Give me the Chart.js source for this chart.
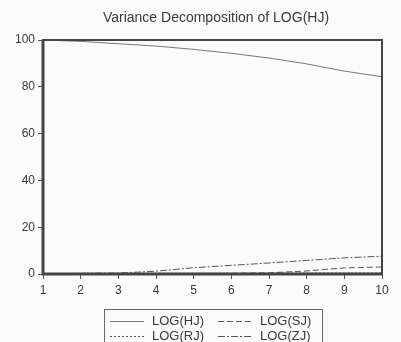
<!DOCTYPE html>
<html>
<head>
<meta charset="utf-8">
<script src="https://cdn.jsdelivr.net/npm/chart.js@4/dist/chart.umd.min.js"></script>
<style>
  html, body { margin: 0; padding: 0; background: #fbfbfb; }
  #wrap { width: 401px; height: 342px; }
</style>
</head>
<body>
<div id="wrap"><canvas id="vdChart" width="401" height="342"></canvas></div>
<script>
var periods = ['1', '2', '3', '4', '5', '6', '7', '8', '9', '10'];
var logHJ = [100, 99.4, 98.4, 97.4, 96.0, 94.3, 92.3, 89.8, 86.7, 84.3];
var logRJ = [0, 0.2, 0.2, 0.3, 0.3, 0.3, 0.3, 0.4, 0.4, 0.4];
var logSJ = [0, 0.1, 0.1, 0.2, 0.2, 0.3, 0.5, 1.3, 2.6, 3.0];
var logZJ = [0, 0.3, 0.4, 1.2, 2.7, 3.7, 4.7, 5.8, 6.9, 7.6];
var titleText = 'Variance Decomposition of LOG(HJ)';

var ink = '#3a3a3a';

// frame round the plot, title on top and the boxed legend underneath
var decorations = {
    id: 'decorations',
    afterDraw: function(chart) {
        var ctx = chart.ctx;
        var a = chart.chartArea;
        ctx.save();

        ctx.strokeStyle = '#444';
        ctx.lineWidth = 2;
        ctx.strokeRect(a.left, a.top, a.right - a.left, a.bottom - a.top);
        ctx.lineWidth = 3;
        ctx.beginPath();
        ctx.moveTo(a.left, a.top);
        ctx.lineTo(a.left, a.bottom);
        ctx.lineTo(a.right, a.bottom);
        ctx.stroke();

        ctx.fillStyle = ink;
        ctx.font = '14px "Liberation Sans", Arial, sans-serif';
        ctx.textAlign = 'center';
        ctx.textBaseline = 'middle';
        ctx.fillText(titleText, 216, 18);

        // legend box
        ctx.strokeStyle = '#666';
        ctx.lineWidth = 1;
        ctx.strokeRect(104.5, 309.5, 218, 40);

        ctx.font = '13px "Liberation Sans", Arial, sans-serif';
        ctx.textAlign = 'left';
        chart.data.datasets.forEach(function(ds, i) {
            var col = Math.floor(i / 2), row = i % 2;
            var x = 110 + col * 108;
            var y = 321 + row * 15;
            ctx.strokeStyle = ds.borderColor;
            ctx.lineWidth = 1;
            ctx.setLineDash(ds.borderDash || []);
            ctx.beginPath();
            ctx.moveTo(x, y + 0.5);
            ctx.lineTo(x + 34, y + 0.5);
            ctx.stroke();
            ctx.setLineDash([]);
            ctx.fillStyle = ink;
            ctx.fillText(ds.label, x + 42, y);
        });
        ctx.restore();
    }
};

var ctx = document.getElementById('vdChart').getContext('2d');
var vdChart = new Chart(ctx, {
    type: 'line',
    data: {
        labels: periods,
        datasets: [
            { label: 'LOG(HJ)', data: logHJ, borderColor: '#777', borderWidth: 1 },
            { label: 'LOG(RJ)', data: logRJ, borderColor: '#555', borderWidth: 1, borderDash: [2, 2] },
            { label: 'LOG(SJ)', data: logSJ, borderColor: '#555', borderWidth: 1, borderDash: [6, 3] },
            { label: 'LOG(ZJ)', data: logZJ, borderColor: '#555', borderWidth: 1, borderDash: [7, 2, 2, 2] }
        ]
    },
    options: {
        responsive: false,
        animation: false,
        layout: { padding: { left: 0, right: 19, top: 40, bottom: 0 } },
        elements: { point: { radius: 0 }, line: { tension: 0 } },
        plugins: {
            legend: { display: false },
            title: { display: false },
            tooltip: { enabled: false }
        },
        scales: {
            x: {
                offset: false,
                grid: { drawOnChartArea: false, color: '#555', tickLength: 5 },
                border: { display: false },
                ticks: {
                    color: ink,
                    font: { size: 12, family: '"Liberation Sans", Arial, sans-serif' },
                    padding: 4,
                    maxRotation: 0,
                    autoSkip: false
                },
                afterFit: function(scale) { scale.height = 68; }
            },
            y: {
                min: 0,
                max: 100,
                grid: { drawOnChartArea: false, color: '#555', tickLength: 5 },
                border: { display: false },
                ticks: {
                    stepSize: 20,
                    color: ink,
                    font: { size: 12, family: '"Liberation Sans", Arial, sans-serif' },
                    padding: 3
                },
                afterFit: function(scale) { scale.width = 43; }
            }
        }
    },
    plugins: [decorations]
});
</script>
</body>
</html>
